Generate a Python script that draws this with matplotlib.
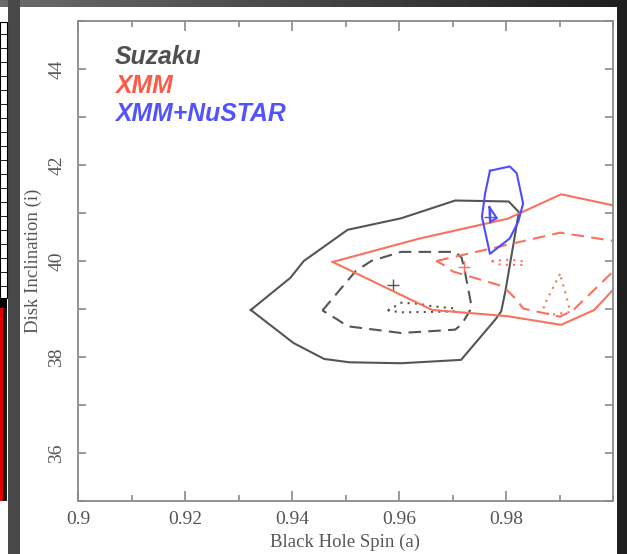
import numpy as np
import matplotlib
matplotlib.use("Agg")
import matplotlib.pyplot as plt
from matplotlib.patches import Rectangle
from matplotlib.ticker import MultipleLocator, FixedLocator, FixedFormatter

# ---------------- data ----------------
suzaku_solid_x = [0.9323, 0.9397, 0.9422, 0.9504, 0.9604, 0.9705, 0.9805, 0.9824, 0.9816,
                  0.9799, 0.9791, 0.9780, 0.9716, 0.9604, 0.9507, 0.9460, 0.9403, 0.9323]
suzaku_solid_y = [38.98, 39.65, 40.00, 40.65, 40.89, 41.26, 41.24, 41.02, 40.49,
                  39.38, 38.95, 38.78, 37.94, 37.87, 37.89, 37.96, 38.29, 38.98]

suzaku_dash_x = [0.9457, 0.9488, 0.9519, 0.9548, 0.9604, 0.9705, 0.9717, 0.9723, 0.9736,
                 0.9717, 0.9705, 0.9604, 0.9504, 0.9485, 0.9457]
suzaku_dash_y = [38.97, 39.38, 39.79, 40.00, 40.19, 40.19, 40.07, 39.79, 39.03,
                 38.68, 38.57, 38.50, 38.64, 38.78, 38.97]

suzaku_dot_x = [0.9579, 0.9604, 0.9636, 0.9661, 0.9705, 0.9705, 0.9661, 0.9604, 0.9579]
suzaku_dot_y = [38.97, 39.13, 39.11, 39.06, 39.01, 38.95, 38.94, 38.93, 38.97]

suzaku_best = (0.9589, 39.50)

xmm_solid_x = [0.9476, 0.9639, 0.9803, 0.9903, 1.0000, 1.0060, 1.0060, 1.0000, 0.9965,
               0.9903, 0.9803, 0.9662, 0.9476]
xmm_solid_y = [39.98, 40.47, 40.88, 41.39, 41.16, 41.05, 39.90, 39.40, 38.98,
               38.67, 38.85, 38.98, 39.98]

xmm_dash_x = [0.9670, 0.9901, 1.0000, 1.0060, 1.0060, 1.0000, 0.9926, 0.9901, 0.9832,
              0.9820, 0.9795, 0.9701, 0.9683, 0.9670]
xmm_dash_y = [40.00, 40.59, 40.42, 40.35, 39.40, 39.78, 38.98, 38.84, 39.01,
              39.19, 39.47, 39.78, 39.92, 40.00]

xmm_dot1_x = [0.9773, 0.9806, 0.9834, 0.9830, 0.9790, 0.9773]
xmm_dot1_y = [40.00, 40.03, 39.99, 39.92, 39.92, 40.00]

xmm_dot2_x = [0.9901, 0.9870, 0.9880, 0.9920, 0.9913, 0.9901]
xmm_dot2_y = [39.73, 39.05, 38.87, 38.94, 39.26, 39.73]

xmm_best = (0.9722, 39.87)

nustar_x = [0.9770, 0.9807, 0.9820, 0.9832, 0.9823, 0.9807, 0.9770, 0.9755, 0.9761, 0.9770]
nustar_y = [41.88, 41.97, 41.83, 41.20, 40.82, 40.47, 40.15, 40.92, 41.41, 41.88]

nustar_in_x = [0.9769, 0.9783, 0.9770, 0.9769]
nustar_in_y = [41.12, 40.89, 40.82, 41.12]

nustar_best = (0.9770, 40.92)

x_ticks = [0.90, 0.92, 0.94, 0.96, 0.98]
x_ticklabels = ["0.9", "0.92", "0.94", "0.96", "0.98"]
y_ticks = [36, 38, 40, 42, 44]
y_ticklabels = ["36", "38", "40", "42", "44"]
legend_names = ["Suzaku", "XMM", "XMM+NuSTAR"]

# ---------------- styling ----------------
W, H = 627, 554
c_suz = "#555555"
c_xmm = "#f7725f"
c_nu = "#4d4dff"
leg_colors = ["#4f4f4f", "#ff5a48", "#5252ff"]
serif = ["Liberation Serif", "DejaVu Serif"]

fig = plt.figure(figsize=(W / 100, H / 100), dpi=100, facecolor="white")

def px_rect(x0, y0, x1, y1, **kw):
    r = Rectangle((x0 / W, 1 - y1 / H), (x1 - x0) / W, (y1 - y0) / H,
                  transform=fig.transFigure, **kw)
    fig.patches.append(r)

# screenshot frame
px_rect(8, 0, 20, H, facecolor="#484848", edgecolor="none")
px_rect(617, 0, W, H, facecolor="#1f1f1f", edgecolor="none")
px_rect(0, 22, 7, 298, facecolor="white", edgecolor="black", linewidth=0.8)
for yy in range(34, 298, 14):
    px_rect(0, yy, 7, yy + 1, facecolor="#222222", edgecolor="none")
px_rect(0, 298, 7, 308, facecolor="black", edgecolor="none")
px_rect(0, 308, 3, 501, facecolor="#e00000", edgecolor="none")
px_rect(3, 308, 7, 501, facecolor="#1a1a1a", edgecolor="none")
topax = fig.add_axes([0, 1 - 7 / H, 1, 7 / H])
grad = np.linspace(0.42, 0.12, 256)[None, :]
topax.imshow(grad, aspect="auto", cmap="gray", vmin=0, vmax=1, extent=[0, 1, 0, 1])
topax.set_axis_off()

# main axes
ax = fig.add_axes([78 / W, 1 - 501 / H, (613 - 78) / W, (501 - 21) / H])
ax.set_xlim(0.9, 1.0)
ax.set_ylim(35, 45)

lw = 1.5
ax.plot(suzaku_solid_x, suzaku_solid_y, color=c_suz, lw=lw)
ax.plot(suzaku_dash_x, suzaku_dash_y, color=c_suz, lw=lw, dashes=(6, 3.5))
ax.plot(suzaku_dot_x, suzaku_dot_y, color=c_suz, lw=lw, dashes=(1, 2.5))
ax.plot(*suzaku_best, marker="+", color=c_suz, ms=8, mew=1)

ax.plot(xmm_solid_x, xmm_solid_y, color=c_xmm, lw=lw)
ax.plot(xmm_dash_x, xmm_dash_y, color=c_xmm, lw=lw, dashes=(6, 3.5))
ax.plot(xmm_dot1_x, xmm_dot1_y, color=c_xmm, lw=lw, dashes=(1, 2.5))
ax.plot(xmm_dot2_x, xmm_dot2_y, color=c_xmm, lw=lw, dashes=(1, 2.5))
ax.plot(*xmm_best, marker="+", color=c_xmm, ms=8, mew=1)

ax.plot(nustar_x, nustar_y, color=c_nu, lw=lw)
ax.plot(nustar_in_x, nustar_in_y, color=c_nu, lw=lw)
ax.plot(*nustar_best, marker="+", color=c_nu, ms=8, mew=1)

# axes style
for s in ax.spines.values():
    s.set_color("#8a8a8a")
    s.set_linewidth(1.3)
ax.xaxis.set_major_locator(FixedLocator(x_ticks))
ax.xaxis.set_major_formatter(FixedFormatter(x_ticklabels))
ax.xaxis.set_minor_locator(MultipleLocator(0.01))
ax.yaxis.set_major_locator(FixedLocator(y_ticks))
ax.yaxis.set_major_formatter(FixedFormatter(y_ticklabels))
ax.yaxis.set_minor_locator(MultipleLocator(1))
ax.tick_params(which="both", direction="in", top=True, right=True, color="#8a8a8a", width=1.2)
ax.tick_params(axis="x", which="major", length=7, pad=7)
ax.tick_params(axis="x", which="minor", length=4)
ax.tick_params(axis="y", which="major", length=6, pad=9)
ax.tick_params(axis="y", which="minor", length=6)
for lab in ax.get_xticklabels():
    lab.set_fontfamily(serif); lab.set_fontsize(14); lab.set_color("#555555")
for lab in ax.get_yticklabels():
    lab.set_fontfamily(serif); lab.set_fontsize(14); lab.set_color("#555555")
    lab.set_rotation(90); lab.set_va("center")
ax.set_xlabel("Black Hole Spin (a)", fontfamily=serif, fontsize=13.5, color="#555555", labelpad=4)
ax.set_ylabel("Disk Inclination (i)", fontfamily=serif, fontsize=13.5, color="#555555",
              va="center")
ax.yaxis.set_label_coords((33 - 78) / (613 - 78), 0.5)

# legend text
ys = [64, 93, 121]
for name, col, yb in zip(legend_names, leg_colors, ys):
    fig.text(115 / W, 1 - yb / H, name, color=col, fontsize=17.8, fontweight="bold",
             fontstyle="italic", fontfamily=["Liberation Sans", "DejaVu Sans"], va="baseline")

fig.savefig("out.png", dpi=100, facecolor="white")
